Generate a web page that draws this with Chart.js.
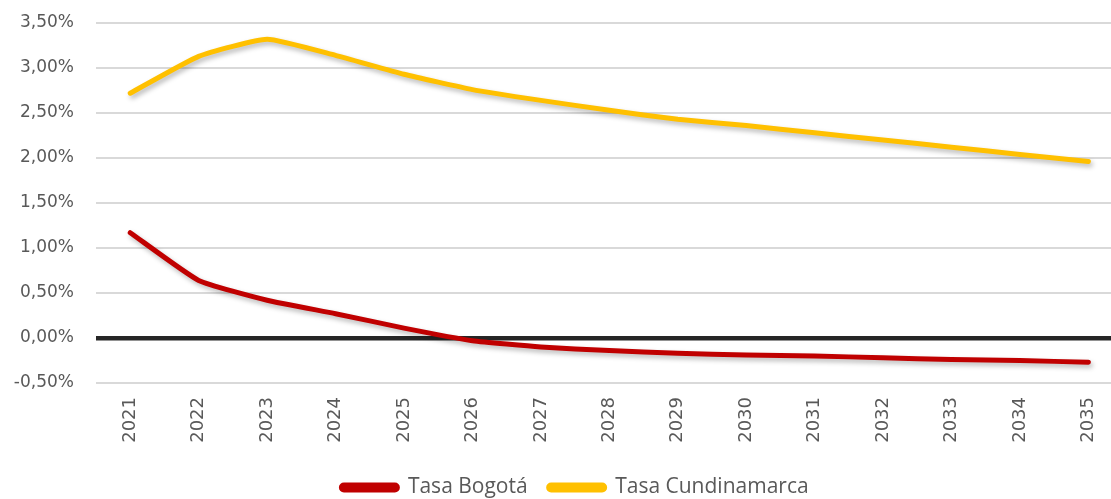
<!DOCTYPE html>
<html>
<head>
<meta charset="utf-8">
<script src="https://cdn.jsdelivr.net/npm/chart.js@4/dist/chart.umd.min.js"></script>
<style>
  html, body { margin: 0; padding: 0; background: #fff; overflow: hidden; }
  #wrap { width: 1124px; height: 499px; position: relative; }
</style>
</head>
<body>
<div id="wrap"><canvas id="c"></canvas></div>
<script>
const years = ['2021','2022','2023','2024','2025','2026','2027','2028','2029','2030','2031','2032','2033','2034','2035'];
const tasaBogota = [1.17, 0.64, 0.42, 0.27, 0.11, -0.03, -0.10, -0.14, -0.17, -0.19, -0.20, -0.22, -0.24, -0.25, -0.27];
const tasaCundinamarca = [2.72, 3.13, 3.32, 3.14, 2.93, 2.76, 2.64, 2.53, 2.43, 2.36, 2.28, 2.20, 2.12, 2.04, 1.96];
const seriesNames = ['Tasa Bogotá', 'Tasa Cundinamarca'];
const yTickValues = [-0.5, 0, 0.5, 1, 1.5, 2, 2.5, 3, 3.5];
const fmtPct = v => v.toFixed(2).replace('.', ',') + '%';

const shadowPlugin = {
  id: 'shadow',
  beforeDatasetDraw(chart) {
    const ctx = chart.ctx;
    ctx.save();
    ctx.shadowColor = 'rgba(0,0,0,0.28)';
    ctx.shadowBlur = 5;
    ctx.shadowOffsetX = 2;
    ctx.shadowOffsetY = 3;
  },
  afterDatasetDraw(chart) {
    chart.ctx.restore();
  }
};

const legendShift = {
  id: 'legendShift',
  afterLayout(chart) {
    const lg = chart.legend;
    if (lg) { lg.left += 13; lg.right += 13; }
  }
};

const textColor = '#595959';
const tickFont = '"DejaVu Sans", sans-serif';
const legendFont = '"Open Sans", sans-serif';

new Chart(document.getElementById('c'), {
  type: 'line',
  data: {
    labels: years,
    datasets: [
      {
        label: seriesNames[0],
        data: tasaBogota,
        borderColor: '#C00000',
        backgroundColor: '#C00000',
        borderWidth: 5,
        pointRadius: 0,
        tension: 0.15,
        borderCapStyle: 'round',
        borderJoinStyle: 'round',
        fill: false
      },
      {
        label: seriesNames[1],
        data: tasaCundinamarca,
        borderColor: '#FFC000',
        backgroundColor: '#FFC000',
        borderWidth: 5,
        pointRadius: 0,
        tension: 0.15,
        borderCapStyle: 'round',
        borderJoinStyle: 'round',
        fill: false
      }
    ]
  },
  options: {
    responsive: true,
    maintainAspectRatio: false,
    animation: false,
    layout: { padding: { top: 23, left: 0, right: 0, bottom: -9 } },
    plugins: {
      tooltip: { enabled: false },
      legend: {
        position: 'bottom',
        labels: {
          color: textColor,
          font: { family: legendFont, size: 21 },
          boxWidth: 56,
          boxHeight: 5,
          useBorderRadius: true,
          borderRadius: 2.5,
          padding: 21
        }
      }
    },
    scales: {
      x: {
        offset: true,
        grid: { display: false, drawTicks: false },
        border: { display: false },
        ticks: {
          color: textColor,
          font: { family: tickFont, size: 18 },
          minRotation: 90,
          maxRotation: 90,
          padding: 14,
          autoSkip: false
        },
        afterFit(s) { s.height = 73; }
      },
      y: {
        min: -0.5,
        max: 3.5,
        afterBuildTicks(s) { s.ticks = yTickValues.map(v => ({ value: v })); },
        grid: {
          drawTicks: false,
          color: ctx => (ctx.tick && ctx.tick.value === 0) ? '#262626' : '#d9d9d9',
          lineWidth: ctx => (ctx.tick && ctx.tick.value === 0) ? 4.5 : 2
        },
        border: { display: false },
        ticks: {
          color: textColor,
          font: { family: tickFont, size: 17 },
          padding: 22,
          callback: v => fmtPct(v)
        },
        afterFit(s) { s.width = 96; s.paddingTop = 0; s.paddingBottom = 0; }
      }
    }
  },
  plugins: [shadowPlugin, legendShift]
});
</script>
</body>
</html>
